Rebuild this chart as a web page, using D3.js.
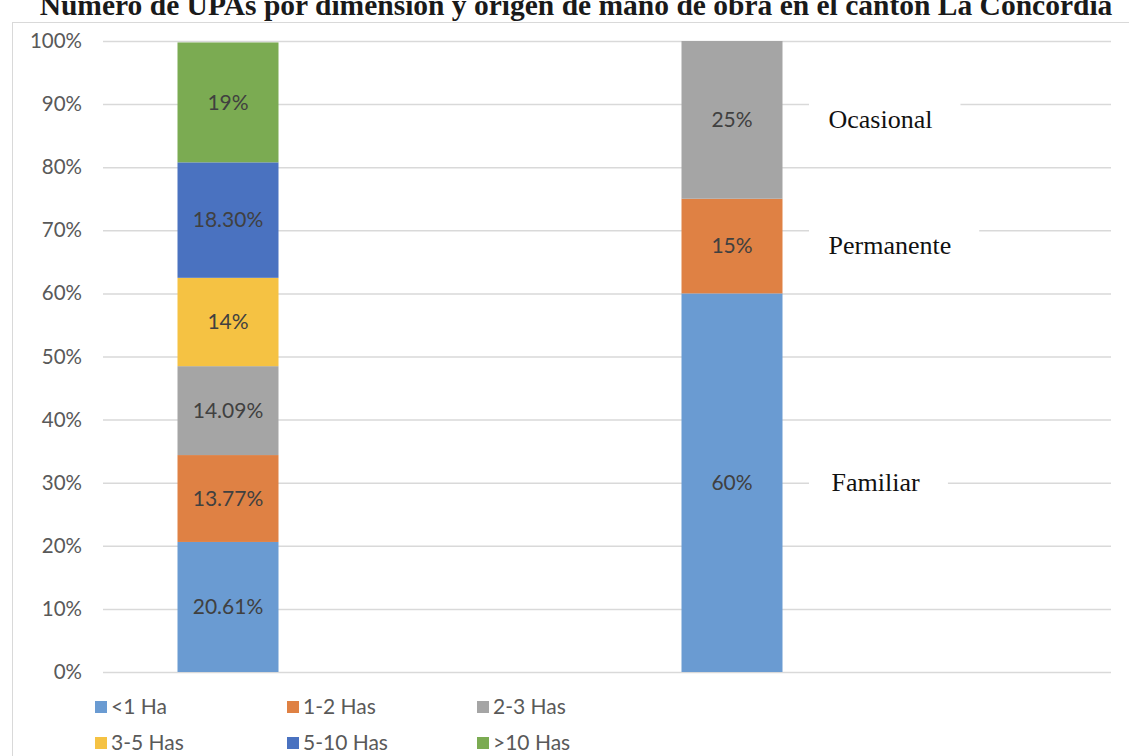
<!DOCTYPE html>
<html>
<head>
<meta charset="utf-8">
<script src="https://cdn.jsdelivr.net/npm/d3@7"></script>
<style>
  body { margin: 0; background: #fff; }
  svg { display: block; }
</style>
</head>
<body>
<script>
// Datos del gráfico
const categorias = ["Dimensión", "Mano de obra"];
const rangosTamano = ["<1 Ha", "1-2 Has", "2-3 Has", "3-5 Has", "5-10 Has", ">10 Has"];
const valoresTamano = [20.61, 13.77, 14.09, 14, 18.30, 19];
const etiquetasTamano = ["20.61%", "13.77%", "14.09%", "14%", "18.30%", "19%"];
const origenesMano = ["Familiar", "Permanente", "Ocasional"];
const valoresMano = [60, 15, 25];
const etiquetasMano = ["60%", "15%", "25%"];
const ticksY = [0, 10, 20, 30, 40, 50, 60, 70, 80, 90, 100];
const titulo = "Número de UPAs por dimensión y origen de mano de obra en el cantón La Concordia";

// Colores de las series
const colores = ["#6a9bd2", "#df8144", "#a5a5a5", "#f5c243", "#4a72c0", "#7bab52"];

width = 1129;
height = 756;

svg = d3.select("body").append("svg")
    .attr("width", width)
    .attr("height", height);

// Marco del gráfico
svg.append("rect")
    .attr("x", 12.5).attr("y", 22.5)
    .attr("width", 1200).attr("height", 800)
    .attr("fill", "none")
    .attr("stroke", "#d9d9d9");

// Título (cortado en la parte superior, como en el original)
svg.append("text")
    .attr("x", 576).attr("y", 15)
    .attr("text-anchor", "middle")
    .style("font-family", "'Liberation Serif', 'DejaVu Serif', serif")
    .style("font-weight", "bold")
    .style("font-size", "29.5px")
    .attr("fill", "#1a1a1a")
    .text(titulo);

// Escalas
y = d3.scaleLinear().domain([0, 100]).range([672, 41]);
x = d3.scalePoint().domain(categorias).range([228, 732]);
anchoBarra = 101;

// Líneas de cuadrícula y eje Y
ejeY = svg.append("g")
    .attr("transform", "translate(103,0)")
    .call(d3.axisLeft(y).tickValues(ticksY).tickSize(-(1111 - 103)).tickPadding(21).tickFormat(d => d + "%"));
ejeY.select(".domain").remove();
ejeY.selectAll("line").attr("stroke", "#d9d9d9").attr("stroke-width", 1.5);
ejeY.selectAll("text")
    .style("font-family", "Lato, 'Open Sans', sans-serif")
    .style("font-size", "20.5px")
    .attr("fill", "#595959");

// Apilamos los segmentos de cada barra
function apilar(valores, etiquetas, nombres) {
    let acum = 0;
    return valores.map((v, i) => {
        const s = { y0: acum, y1: acum + v, etiqueta: etiquetas[i], nombre: nombres[i], color: colores[i] };
        acum += v;
        return s;
    });
}
barras = [
    { cat: categorias[0], segs: apilar(valoresTamano, etiquetasTamano, rangosTamano) },
    { cat: categorias[1], segs: apilar(valoresMano, etiquetasMano, origenesMano) }
];

grupoBarras = svg.selectAll("g.barra")
    .data(barras)
    .enter().append("g")
    .attr("class", "barra");

grupoBarras.selectAll("rect")
    .data(d => d.segs.map(s => Object.assign({ cat: d.cat }, s)))
    .enter().append("rect")
    .attr("x", d => x(d.cat) - anchoBarra / 2)
    .attr("width", anchoBarra)
    .attr("y", d => y(d.y1))
    .attr("height", d => y(d.y0) - y(d.y1))
    .attr("fill", d => d.color);

grupoBarras.selectAll("text")
    .data(d => d.segs.map(s => Object.assign({ cat: d.cat }, s)))
    .enter().append("text")
    .attr("x", d => x(d.cat))
    .attr("y", d => y((d.y0 + d.y1) / 2))
    .attr("dy", "0.35em")
    .attr("text-anchor", "middle")
    .style("font-family", "Lato, 'Open Sans', sans-serif")
    .style("font-size", "21px")
    .attr("fill", "#404040")
    .text(d => d.etiqueta);

// Etiquetas de origen de mano de obra (con fondo blanco sobre la cuadrícula)
segsMano = barras[1].segs;
offsetsEtiqueta = [49, 46, 46];
anotaciones = svg.selectAll("g.anotacion")
    .data(segsMano)
    .enter().append("g")
    .attr("class", "anotacion");

anotaciones.append("rect").attr("fill", "#fff");
anotaciones.append("text")
    .attr("x", (d, i) => x(categorias[1]) + anchoBarra / 2 + offsetsEtiqueta[i])
    .attr("y", d => y((d.y0 + d.y1) / 2))
    .attr("dy", "0.3em")
    .style("font-family", "'Liberation Serif', 'DejaVu Serif', serif")
    .style("font-size", "26px")
    .attr("fill", "#111")
    .text(d => d.nombre);

anotaciones.each(function() {
    const g = d3.select(this);
    const b = g.select("text").node().getBBox();
    g.select("rect")
        .attr("x", 809)
        .attr("y", b.y - 4)
        .attr("width", b.x + b.width + 28 - 809)
        .attr("height", b.height + 8);
});

// Leyenda
leyendaX = [95, 287, 477];
leyendaY = [707, 743];
leyenda = svg.selectAll("g.leyenda")
    .data(rangosTamano)
    .enter().append("g")
    .attr("class", "leyenda")
    .attr("transform", (d, i) => `translate(${leyendaX[i % 3]},${leyendaY[Math.floor(i / 3)]})`);

leyenda.append("rect")
    .attr("x", 0).attr("y", -6)
    .attr("width", 12).attr("height", 12)
    .attr("fill", (d, i) => colores[i]);

leyenda.append("text")
    .attr("x", 16)
    .attr("dy", "0.35em")
    .style("font-family", "Lato, 'Open Sans', sans-serif")
    .style("font-size", "21px")
    .attr("fill", "#595959")
    .text(d => d);
</script>
</body>
</html>
